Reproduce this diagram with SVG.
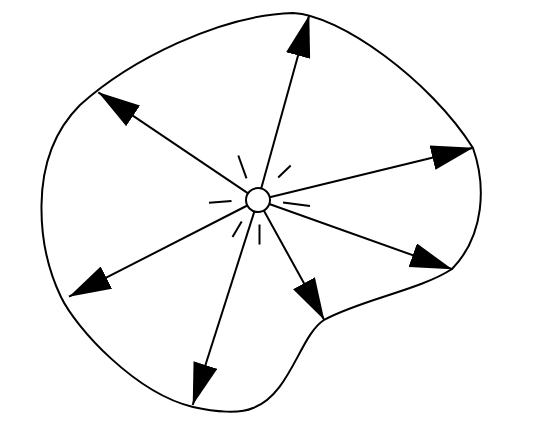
<svg xmlns="http://www.w3.org/2000/svg" width="556" height="433" viewBox="0 0 556 433">
<style>
.ln{stroke:#000;stroke-width:2;fill:none;stroke-linecap:butt}
.ar{stroke:#000;stroke-width:2;fill:none;marker-end:url(#ah)}
</style>
<defs>
<marker id="ah" viewBox="0 0 42 25" refX="42" refY="12.5" markerWidth="42" markerHeight="25" markerUnits="userSpaceOnUse" orient="auto">
<path d="M0,0 L42,12.5 L0,25 Z" fill="#000"/>
</marker>
</defs>
<rect width="556" height="433" fill="#fff"/>
<g id="region">
<path class="ln" d="M293,13 C340,15 430,80 473,148 C486,185 485,235 452,269 C420,290 360,300 324,320 C300,335 290,395 253,408 C240,414 215,412 193,407 C135,393 76,328 61,297 C48,270 41,240 41.5,205 C42,165 55,130 80,105 C130,60 220,15 293,13 Z"/>
</g>
<g id="connectors">
<line class="ar" x1="261.2" y1="188.4" x2="309.3" y2="15"/>
<line class="ar" x1="248.1" y1="193.3" x2="98.3" y2="92.3"/>
<line class="ar" x1="269.7" y1="197.2" x2="473.3" y2="147.7"/>
<line class="ar" x1="247.3" y1="205.5" x2="69" y2="296.7"/>
<line class="ar" x1="254.4" y1="211.4" x2="192.7" y2="405"/>
<line class="ar" x1="263.8" y1="210.5" x2="324.3" y2="320"/>
<line class="ar" x1="269.3" y1="204" x2="452.3" y2="269.3"/>
</g>
<g id="rays">
<line class="ln" x1="238.3" y1="155.5" x2="246.5" y2="178.3"/>
<line class="ln" x1="290.7" y1="165.5" x2="278.2" y2="177.5"/>
<line class="ln" x1="209" y1="202.7" x2="231.5" y2="201"/>
<line class="ln" x1="283" y1="202.5" x2="310" y2="206"/>
<line class="ln" x1="241.7" y1="221.5" x2="232.5" y2="237"/>
<line class="ln" x1="259.5" y1="224.5" x2="259.5" y2="244.5"/>
</g>
<g id="source">
<circle cx="258" cy="200" r="12" fill="#fff" stroke="#000" stroke-width="2"/>
</g>
</svg>
